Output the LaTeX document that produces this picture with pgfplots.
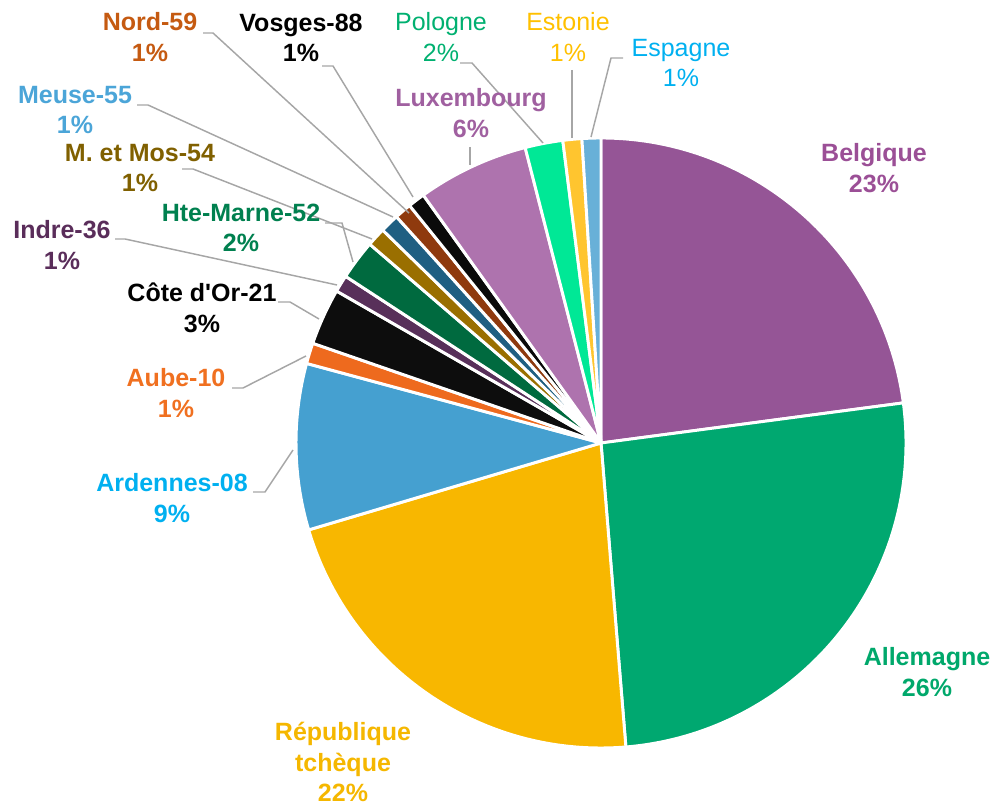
\documentclass[border=0pt]{standalone}
\usepackage{pgfplots}
\usepackage{pgfplotstable}
\pgfplotsset{compat=1.18}
\usepackage{fontspec}
\setmainfont{Liberation Sans}
\newcommand{\sq}{\XeTeXglyph\XeTeXcharglyph"0027\relax}
\definecolor{cBel}{HTML}{955596}
\definecolor{cAll}{HTML}{00A870}
\definecolor{cRT}{HTML}{F8B700}
\definecolor{cArd}{HTML}{45A0D0}
\definecolor{cAube}{HTML}{EE6A1E}
\definecolor{cCote}{HTML}{0D0D0D}
\definecolor{cIndre}{HTML}{58305A}
\definecolor{cHM}{HTML}{006A3F}
\definecolor{cMM}{HTML}{9A6F00}
\definecolor{cMeuse}{HTML}{1F5F82}
\definecolor{cNord}{HTML}{8F3A0E}
\definecolor{cVosges}{HTML}{0A0A0A}
\definecolor{cLux}{HTML}{AE73AE}
\definecolor{cPol}{HTML}{00E896}
\definecolor{cEst}{HTML}{FFC52F}
\definecolor{cEsp}{HTML}{68B0D8}
\definecolor{tBel}{HTML}{9B4F96}
\definecolor{tAll}{HTML}{00A86B}
\definecolor{tRT}{HTML}{F5B700}
\definecolor{tArd}{HTML}{00B0F0}
\definecolor{tAube}{HTML}{F07020}
\definecolor{tIndre}{HTML}{5A2D5A}
\definecolor{tHM}{HTML}{00804F}
\definecolor{tMM}{HTML}{806000}
\definecolor{tMeuse}{HTML}{4BA5D8}
\definecolor{tNord}{HTML}{C55A11}
\definecolor{tLux}{HTML}{A060A0}
\definecolor{tPol}{HTML}{00B070}
\definecolor{tEst}{HTML}{FFC000}
\definecolor{tEsp}{HTML}{00B0F0}
\definecolor{leader}{HTML}{A6A6A6}
\pgfplotstableread[col sep=comma]{
name,value,color
Belgique,22.9,cBel
Allemagne,25.8,cAll
Republique tcheque,21.7,cRT
Ardennes-08,8.8,cArd
Aube-10,1.1,cAube
Cote d'Or-21,3.0,cCote
Indre-36,0.9,cIndre
Hte-Marne-52,2.1,cHM
M. et Mos-54,1.0,cMM
Meuse-55,1.0,cMeuse
Nord-59,0.9,cNord
Vosges-88,0.9,cVosges
Luxembourg,5.9,cLux
Pologne,2.0,cPol
Estonie,1.0,cEst
Espagne,1.0,cEsp
}\piedata
\begin{document}
\begin{tikzpicture}
\begin{axis}[scale only axis, width=746.25pt, height=604.5pt,
  xmin=0, xmax=995, ymin=0, ymax=806, hide axis, clip=false]
\path (axis cs:0,0) rectangle (axis cs:995,806);
\pgfplotstablegetrowsof{\piedata}
\pgfmathtruncatemacro{\lastrow}{\pgfplotsretval-1}
\def\total{0}
\pgfplotsforeachungrouped \i in {0,...,\lastrow}{%
  \pgfplotstablegetelem{\i}{value}\of{\piedata}\let\sv=\pgfplotsretval
  \pgfmathsetmacro{\total}{\total+\sv}%
}
\def\cum{0}
\pgfplotsforeachungrouped \i in {0,...,\lastrow}{%
  \pgfplotstablegetelem{\i}{value}\of{\piedata}\let\sv=\pgfplotsretval
  \pgfplotstablegetelem{\i}{color}\of{\piedata}\let\slicecol=\pgfplotsretval
  \pgfmathsetmacro{\aA}{90-\cum/\total*360}%
  \pgfmathsetmacro{\cum}{\cum+\sv}%
  \pgfmathsetmacro{\aB}{90-\cum/\total*360}%
  \edef\cmd{\noexpand\fill[\slicecol, draw=white, line width=2.2pt, line join=round]
    (axis cs:601,363) -- ++(\aA:228.75pt) arc[start angle=\aA, end angle=\aB, radius=228.75pt] -- cycle;}%
  \cmd
}
% leader lines
\begin{scope}[draw=leader, line width=1.1pt]
\draw (axis cs:203,773) -- (axis cs:213,773) -- (axis cs:409,593);
\draw (axis cs:322,740) -- (axis cs:333,740) -- (axis cs:413,609);
\draw (axis cs:137,701) -- (axis cs:148,701) -- (axis cs:393,589);
\draw (axis cs:182,637) -- (axis cs:193,637) -- (axis cs:372,567);
\draw (axis cs:325,583) -- (axis cs:342,583) -- (axis cs:353,544);
\draw (axis cs:115,567) -- (axis cs:125,567) -- (axis cs:337,521);
\draw (axis cs:278,504) -- (axis cs:290,504) -- (axis cs:319,487);
\draw (axis cs:232,418) -- (axis cs:243,418) -- (axis cs:306,450);
\draw (axis cs:253,314) -- (axis cs:265,314) -- (axis cs:293,356);
\draw (axis cs:470,659) -- (axis cs:470,641);
\draw (axis cs:460,743) -- (axis cs:472,743) -- (axis cs:543,663);
\draw (axis cs:572,736) -- (axis cs:572,668);
\draw (axis cs:623,748) -- (axis cs:611,748) -- (axis cs:591,669);
\end{scope}
% labels
\begin{scope}[every node/.style={align=center, inner sep=0pt, font=\fontsize{18.75}{23}\selectfont\bfseries}]
\node[text=tBel] at (axis cs:874,638) {Belgique\\23\%};
\node[text=tAll] at (axis cs:927,134) {Allemagne\\26\%};
\node[text=tRT] at (axis cs:343,44) {République\\tchèque\\22\%};
\node[text=tArd] at (axis cs:172,308) {Ardennes-08\\9\%};
\node[text=tAube] at (axis cs:176,413) {Aube-10\\1\%};
\node[text=black] at (axis cs:202,498) {Côte d\sq Or-21\\3\%};
\node[text=tIndre] at (axis cs:62,561) {Indre-36\\1\%};
\node[text=tHM] at (axis cs:241,578) {Hte-Marne-52\\2\%};
\node[text=tMM] at (axis cs:140,638) {M. et Mos-54\\1\%};
\node[text=tMeuse] at (axis cs:75,696) {Meuse-55\\1\%};
\node[text=tNord] at (axis cs:150,769) {Nord-59\\1\%};
\node[text=black] at (axis cs:301,768) {Vosges-88\\1\%};
\node[text=tLux] at (axis cs:471,693) {Luxembourg\\6\%};
\node[text=tPol, font=\fontsize{18.75}{23}\selectfont] at (axis cs:441,769) {Pologne\\2\%};
\node[text=tEst, font=\fontsize{18.75}{23}\selectfont] at (axis cs:568,769) {Estonie\\1\%};
\node[text=tEsp, font=\fontsize{18.75}{23}\selectfont] at (axis cs:681,743) {Espagne\\1\%};
\end{scope}
\end{axis}
\end{tikzpicture}
\end{document}
